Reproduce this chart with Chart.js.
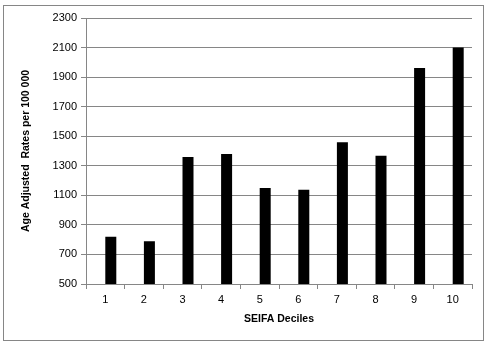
<!DOCTYPE html>
<html lang="en">

<head>
    <meta charset="utf-8">
    <title>SEIFA Deciles</title>
    <script src="https://cdn.jsdelivr.net/npm/chart.js"></script>
    <style>
        body { margin: 0; background: #fff; }
        .grafico { position: relative; width: 489px; height: 346px; }
    </style>
</head>

<body>

    <div class="grafico">
        <canvas id="myChart" width="489" height="346"></canvas>
    </div>

    <script>
        const deciles = ['1', '2', '3', '4', '5', '6', '7', '8', '9', '10'];
        const rates = [820, 790, 1360, 1380, 1150, 1138, 1460, 1368, 1962, 2100];
        // serie vazia que ocupa a metade esquerda de cada categoria
        const vazio = [null, null, null, null, null, null, null, null, null, null];
        const yTicks = [500, 700, 900, 1100, 1300, 1500, 1700, 1900, 2100, 2300];

        const fonte = 'Liberation Sans, Arial, sans-serif';
        const cinza = '#868686';

        // moldura cinza em volta do grafico
        const moldura = {
            id: 'moldura',
            beforeDraw(chart) {
                const ctx = chart.ctx;
                ctx.save();
                ctx.fillStyle = '#fff';
                ctx.fillRect(0, 0, chart.width, chart.height);
                ctx.strokeStyle = cinza;
                ctx.lineWidth = 1;
                ctx.strokeRect(3.5, 5.5, 480, 335);
                ctx.restore();
            }
        };

        const data = {
            labels: deciles,
            datasets: [
                { data: vazio, backgroundColor: '#000' },
                { data: rates, backgroundColor: '#000' }
            ]
        };

        const config = {
            type: 'bar',
            data: data,
            plugins: [moldura],
            options: {
                responsive: false,
                animation: false,
                barPercentage: 1,
                categoryPercentage: 0.57,
                layout: { padding: { left: 20, right: 17, top: 18, bottom: 21 } },
                plugins: {
                    legend: { display: false },
                    tooltip: { enabled: false }
                },
                scales: {
                    x: {
                        grid: { drawOnChartArea: false, drawTicks: true, tickLength: 5, color: cinza },
                        border: { color: cinza },
                        ticks: { color: '#000', font: { family: fonte, size: 11 }, padding: 4 },
                        title: {
                            display: true,
                            text: 'SEIFA Deciles',
                            color: '#000',
                            font: { family: fonte, size: 10.5, weight: 'bold' },
                            padding: { top: 0, bottom: 0 }
                        },
                        afterFit(scale) { scale.height = 41; }
                    },
                    y: {
                        min: 500,
                        max: 2300,
                        afterBuildTicks(scale) {
                            scale.ticks = yTicks.map(v => ({ value: v }));
                        },
                        grid: { color: cinza, tickLength: 5 },
                        border: { color: cinza },
                        ticks: {
                            color: '#000',
                            font: { family: fonte, size: 11 },
                            padding: 4,
                            callback: v => String(v)
                        },
                        title: {
                            display: true,
                            text: 'Age Adjusted  Rates per 100 000',
                            color: '#000',
                            font: { family: fonte, size: 10.5, weight: 'bold' },
                            padding: { top: 0, bottom: 0 }
                        },
                        afterFit(scale) { scale.width = 66; }
                    }
                }
            }
        };

        const myBarChart = new Chart(document.getElementById('myChart'), config);
    </script>

</body>

</html>
